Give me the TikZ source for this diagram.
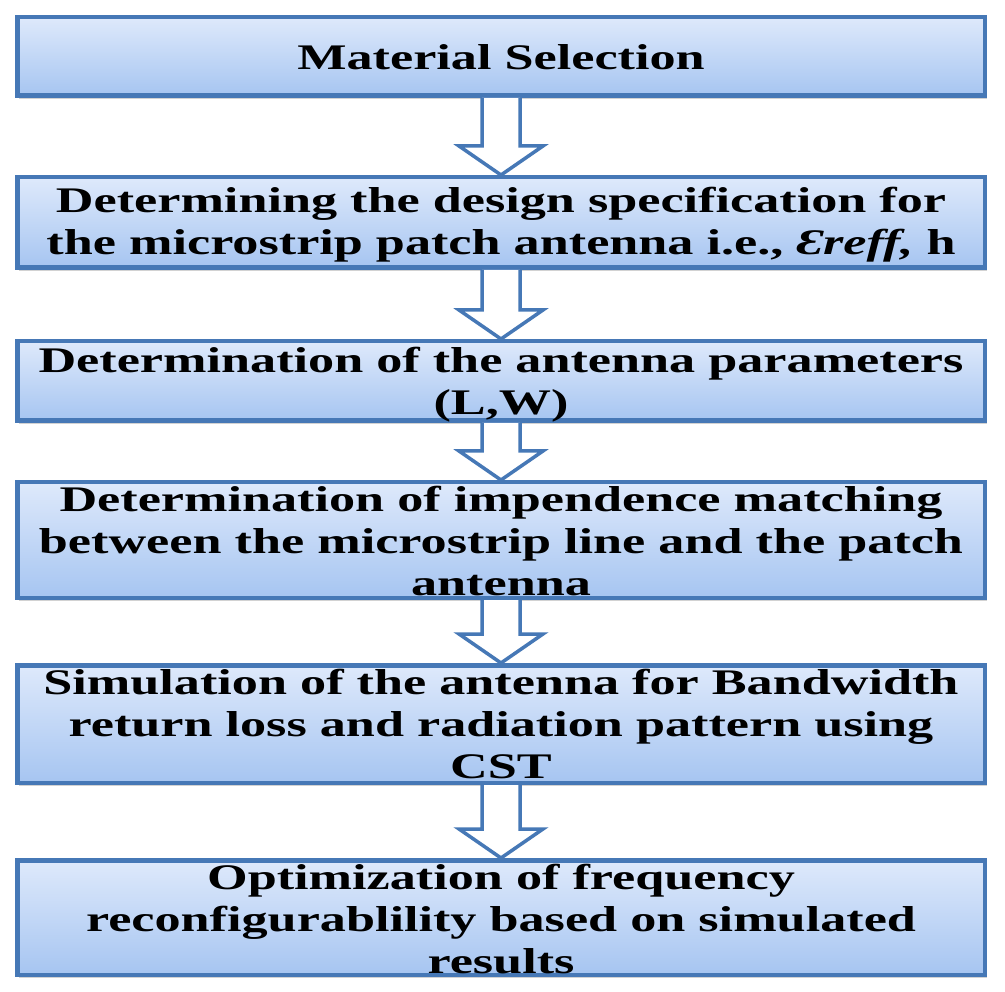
\documentclass[tikz,border=0pt]{standalone}
\usepackage{fontspec}
\setmainfont{Liberation Serif}[FakeStretch=1.45]
\usetikzlibrary{shadows,calc}
\definecolor{bordblue}{RGB}{70,120,182}
\definecolor{filltop}{RGB}{222,233,251}
\definecolor{fillbot}{RGB}{166,197,241}
\tikzset{
  stepbox/.style={draw=bordblue, line width=4.5pt, top color=filltop, bottom color=fillbot,
    minimum width=967.5pt, inner sep=0pt,
    drop shadow={shadow xshift=2pt, shadow yshift=-3pt, opacity=0.35}},
  steptext/.style={font=\fontsize{36}{42}\selectfont\bfseries, align=center, inner sep=0pt, anchor=base},
  blockarrow/.style={draw=bordblue, line width=3.5pt, fill=white, line join=miter}
}
\newcommand\flowarrow[2]{%
  \draw[blockarrow] let \p1=(#1.south), \p2=(#2.north) in
    (\x1-19pt,\y1) -- (\x1-19pt,\y2+29pt) -- (\x1-42pt,\y2+29pt) -- (\x1,\y2)
    -- (\x1+42pt,\y2+29pt) -- (\x1+19pt,\y2+29pt) -- (\x1+19pt,\y1);
}
\begin{document}
\begin{tikzpicture}[x=1pt,y=-1pt]
  \fill[white] (0,0) rectangle (1005,992);
  \useasboundingbox (0,0) rectangle (1005,992);
  % boxes
  \node[stepbox, minimum height=78.5pt]  (b1) at (501,56.5) {};
  \node[stepbox, minimum height=90.5pt]  (b2) at (501,222.5) {};
  \node[stepbox, minimum height=79.5pt]  (b3) at (501,381) {};
  \node[stepbox, minimum height=115.5pt] (b4) at (501,540) {};
  \node[stepbox, minimum height=117.5pt] (b5) at (501,724) {};
  \node[stepbox, minimum height=114.5pt] (b6) at (501,917.5) {};
  % arrows
  \flowarrow{b1}{b2}
  \flowarrow{b2}{b3}
  \flowarrow{b3}{b4}
  \flowarrow{b4}{b5}
  \flowarrow{b5}{b6}
  % texts (base anchor = baseline of the last line)
  \node[steptext] (t1) at (501,70) {Material Selection};
  \node[steptext] (t2) at (501,255) {Determining the design specification for\\the microstrip patch antenna i.e., \textit{Ɛreff,} h};
  \node[steptext] (t3) at (501,415) {Determination of the antenna parameters\\(L,W)};
  \node[steptext] (t4) at (501,595) {Determination of impendence matching\\between the microstrip line and the patch\\antenna};
  \node[steptext] (t5) at (501,778) {Simulation of the antenna for Bandwidth\\return loss and radiation pattern using\\CST};
  \node[steptext] (t6) at (501,973) {Optimization of frequency\\reconfigurablility based on simulated\\results};
\end{tikzpicture}
\end{document}
